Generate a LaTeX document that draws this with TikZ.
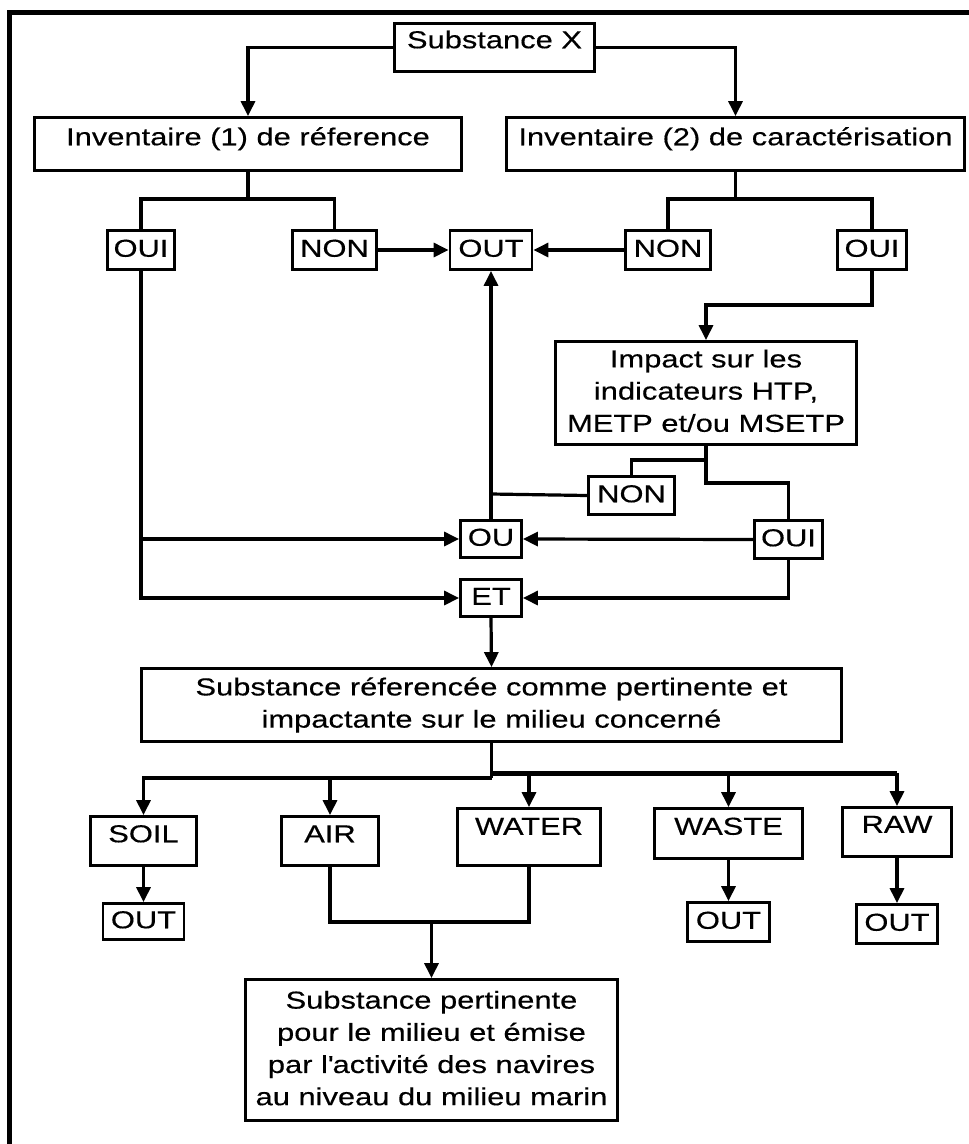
\documentclass[tikz,border=0pt]{standalone}
\usepackage{fontspec}
\setmainfont[FakeStretch=1.26,FakeBold=0.4]{Liberation Sans}
\usetikzlibrary{arrows.meta}
\tikzset{
  box/.style={draw, rectangle, line width=2.8pt, inner sep=0pt, font=\fontsize{24.5}{32.2}\selectfont},
  capA/.style={text height=14.5pt, text depth=13pt},   % text high in box
  capB/.style={text height=15pt, text depth=12.5pt},
  capC/.style={text height=20.5pt, text depth=7pt},    % nearly centred
  capD/.style={text height=11.5pt, text depth=16pt},   % very high
  conn/.style={line width=3.2pt},
  arr/.style={conn, -{Triangle[length=15pt,width=14pt]}},
  bus/.style={line width=5pt}
}
\begin{document}
\begin{tikzpicture}[x=1pt,y=-1pt]
\useasboundingbox (0,0) rectangle (969,1144);
\fill[white] (0,0) rectangle (969,1144);
\begin{scope}
\clip (0,0) rectangle (969,1144);
\draw[line width=5pt] (9.5,12) rectangle (985,1165);
\end{scope}

% nodes
\node[box,capA,minimum width=200pt,minimum height=48pt] (SX) at (494.5,47.5) {Substance X};
\node[box,capB,minimum width=427pt,minimum height=53pt] (INV1) at (248,144) {Inventaire (1) de réference};
\node[box,capB,minimum width=458pt,minimum height=53pt] (INV2) at (735.5,144) {Inventaire (2) de caractérisation};

\node[box,capC,minimum width=67pt,minimum height=39pt] (OUI1) at (141,250) {OUI};
\node[box,capC,minimum width=84pt,minimum height=39pt] (NON1) at (334.5,250) {NON};
\node[box,capC,minimum width=82pt,minimum height=39pt] (OUT1) at (491,250) {OUT};
\node[box,capC,minimum width=85pt,minimum height=39pt] (NON2) at (668,250) {NON};
\node[box,capC,minimum width=69pt,minimum height=39pt] (OUI2) at (872,250) {OUI};

\node[box,align=center,minimum width=301pt,minimum height=103pt] (IMP) at (706,393)
  {Impact sur les\\indicateurs HTP,\\METP et/ou MSETP\rule[-4.6pt]{0pt}{4.6pt}};

\node[box,capC,minimum width=86pt,minimum height=38pt] (NON3) at (631.5,495.5) {NON};
\node[box,capC,minimum width=61pt,minimum height=37pt] (OU) at (491,539) {OU};
\node[box,capC,minimum width=68pt,minimum height=38pt] (OUI3) at (788.5,539.5) {OUI};
\node[box,capC,minimum width=61pt,minimum height=37pt] (ET) at (491,598) {ET};

\node[box,align=center,minimum width=700pt,minimum height=73pt] (SREF) at (491.5,705)
  {Substance réferencée comme pertinente et\\impactante sur le milieu concerné};

\node[box,capB,minimum width=106pt,minimum height=49pt] (SOIL) at (143.5,841) {SOIL};
\node[box,capB,minimum width=97pt,minimum height=49pt] (AIR) at (330,841) {AIR};
\node[box,capD,minimum width=143pt,minimum height=57pt] (WATER) at (529,837) {WATER};
\node[box,capB,minimum width=148pt,minimum height=50pt] (WASTE) at (728.5,833.5) {WASTE};
\node[box,capA,minimum width=109pt,minimum height=49pt] (RAW) at (897,832) {RAW};

\node[box,capC,minimum width=81pt,minimum height=36pt] (OUTS) at (143.5,921.5) {OUT};
\node[box,capC,minimum width=82pt,minimum height=39pt] (OUTW) at (728.5,922) {OUT};
\node[box,capC,minimum width=81pt,minimum height=39pt] (OUTR) at (897,924) {OUT};

\node[box,align=center,minimum width=372pt,minimum height=141pt] (FINAL) at (431.5,1050)
  {Substance pertinente\\pour le milieu et émise\\par l\textquotesingle activité des navires\\au niveau du milieu marin\rule[-4pt]{0pt}{4pt}};

% junction coordinates
\coordinate (j1) at (248,199);
\coordinate (j2) at (735.5,199);
\coordinate (j3) at (872,305);
\coordinate (j4) at (706,460);
\coordinate (j5) at (706,483);
\coordinate (j6) at (491,494);
\coordinate (bl) at (491.5,778);
\coordinate (br) at (491.5,773);
\coordinate (j7) at (431.5,922);

% connectors
\draw[arr] (SX.west) -| (INV1.north);
\draw[arr] (SX.east) -| (INV2.north);

\draw[conn] (INV1.south) -- (j1);
\draw[conn] (OUI1.north) |- (j1) -| (NON1.north);
\draw[conn] (INV2.south) -- (j2);
\draw[conn] (NON2.north) |- (j2) -| (OUI2.north);

\draw[arr] (NON1.east) -- (OUT1.west);
\draw[arr] (NON2.west) -- (OUT1.east);

\draw[arr] (OUI2.south) -- (j3) -| (IMP.north);

\draw[conn] (IMP.south) -- (j4) -| (NON3.north);
\draw[conn] (j4) -- (j5) -| (OUI3.north);

\draw[conn] (NON3.west) -- (j6);
\draw[arr] (OU.north) -- (OUT1.south);

\draw[arr] (OUI1.south) |- (OU.west);
\draw[arr] (OUI1.south) |- (ET.west);
\draw[arr] (OUI3.west) -- (OU.east);
\draw[arr] (OUI3.south) |- (ET.east);

\draw[arr] (ET.south) -- (SREF.north);

\draw[conn] (SREF.south) -- (bl);
\draw[arr] (bl) -| (SOIL.north);
\draw[arr] (bl) -| (AIR.north);
\draw[bus] (br) -- (br -| RAW.north);
\draw[arr] (br -| WATER.north) -- (WATER.north);
\draw[arr] (br -| WASTE.north) -- (WASTE.north);
\draw[arr] (br -| RAW.north) -- (RAW.north);

\draw[arr] (SOIL.south) -- (OUTS.north);
\draw[arr] (WASTE.south) -- (OUTW.north);
\draw[arr] (RAW.south) -- (OUTR.north);

\draw[conn] (AIR.south) |- (j7);
\draw[conn] (WATER.south) |- (j7);
\draw[arr] (j7) -- (FINAL.north);
\end{tikzpicture}
\end{document}
